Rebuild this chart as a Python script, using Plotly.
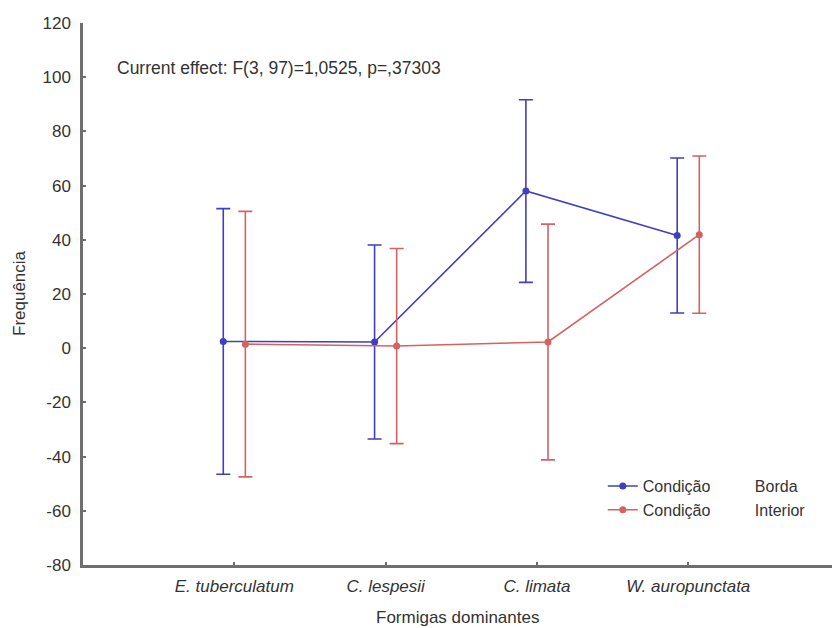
import plotly.graph_objects as go

# Dominant ant species (x categories)
species = ["E. tuberculatum", "C. lespesii", "C. limata", "W. auropunctata"]

# Mean frequency and 95% CI half-width per condition
borda_mean = [2.5, 2.3, 58.0, 41.6]
borda_ci = [49.0, 35.8, 33.7, 28.6]
interior_mean = [1.5, 0.8, 2.3, 41.9]
interior_ci = [49.0, 36.0, 43.5, 29.0]

y_ticks = [-80, -60, -40, -20, 0, 20, 40, 60, 80, 100, 120]
y_tick_text = [str(v) for v in y_ticks]  # plain hyphen for negatives

BLUE = "#3f3fbf"
RED = "#d46262"
TXT = "#333333"
AXIS = "#6e6e6e"
FONT = "Liberation Sans, Arial, sans-serif"

# Small horizontal dodge so the two conditions don't overlap
dodge = 0.073
pos = list(range(1, len(species) + 1))
x_borda = [p - dodge for p in pos]
x_interior = [p + dodge for p in pos]

nb = "\u00a0" * 10

fig = go.Figure()
fig.add_trace(go.Scatter(
    x=x_borda, y=borda_mean, mode="lines+markers",
    name="Condição" + nb + "Borda",
    line=dict(color=BLUE, width=1.6),
    marker=dict(color=BLUE, size=7, symbol="circle"),
    error_y=dict(type="data", array=borda_ci, visible=True,
                 color=BLUE, thickness=1.6, width=7),
))
fig.add_trace(go.Scatter(
    x=x_interior, y=interior_mean, mode="lines+markers",
    name="Condição" + nb + "Interior",
    line=dict(color=RED, width=1.6),
    marker=dict(color=RED, size=7, symbol="circle"),
    error_y=dict(type="data", array=interior_ci, visible=True,
                 color=RED, thickness=1.6, width=7),
))

fig.add_annotation(
    text="Current effect: F(3, 97)=1,0525, p=,37303",
    xref="paper", yref="paper", x=0.043, y=0.917,
    xanchor="left", yanchor="middle", showarrow=False,
    font=dict(family=FONT, size=17.5, color=TXT),
)
fig.add_annotation(
    text="Frequência", textangle=-90,
    xref="paper", yref="paper", x=-0.084, y=0.502,
    xanchor="center", yanchor="middle", showarrow=False,
    font=dict(family=FONT, size=17, color=TXT),
)
fig.add_annotation(
    text="Formigas dominantes",
    xref="paper", yref="paper", x=0.5, y=-0.096,
    xanchor="center", yanchor="middle", showarrow=False,
    font=dict(family=FONT, size=17, color=TXT),
)

fig.update_layout(
    width=832, height=628,
    margin=dict(l=83, r=0, t=23, b=63),
    paper_bgcolor="white", plot_bgcolor="white",
    font=dict(family=FONT, size=17, color=TXT),
    showlegend=True,
    legend=dict(
        x=0.694, y=0.177, xanchor="left", yanchor="top",
        bgcolor="rgba(0,0,0,0)", font=dict(family=FONT, size=16, color=TXT),
        itemwidth=30, tracegroupgap=0,
    ),
    xaxis=dict(
        range=[0, 4.95], tickmode="array", tickvals=pos, ticktext=species,
        tickfont=dict(family=FONT, size=17, color=TXT, style="italic"),
        showgrid=False, zeroline=False,
        showline=True, linecolor=AXIS, linewidth=2.5,
        ticks="inside", ticklen=3, tickwidth=2, tickcolor=AXIS,
        ticklabelstandoff=4,
    ),
    yaxis=dict(
        range=[-80, 120], tickmode="array", tickvals=y_ticks,
        ticktext=y_tick_text,
        tickfont=dict(family=FONT, size=17, color=TXT),
        showgrid=False, zeroline=False,
        showline=True, linecolor=AXIS, linewidth=2.5,
        ticks="inside", ticklen=3, tickwidth=1.5, tickcolor=AXIS,
        ticklabelstandoff=6,
    ),
)

fig.write_html("out.html")
